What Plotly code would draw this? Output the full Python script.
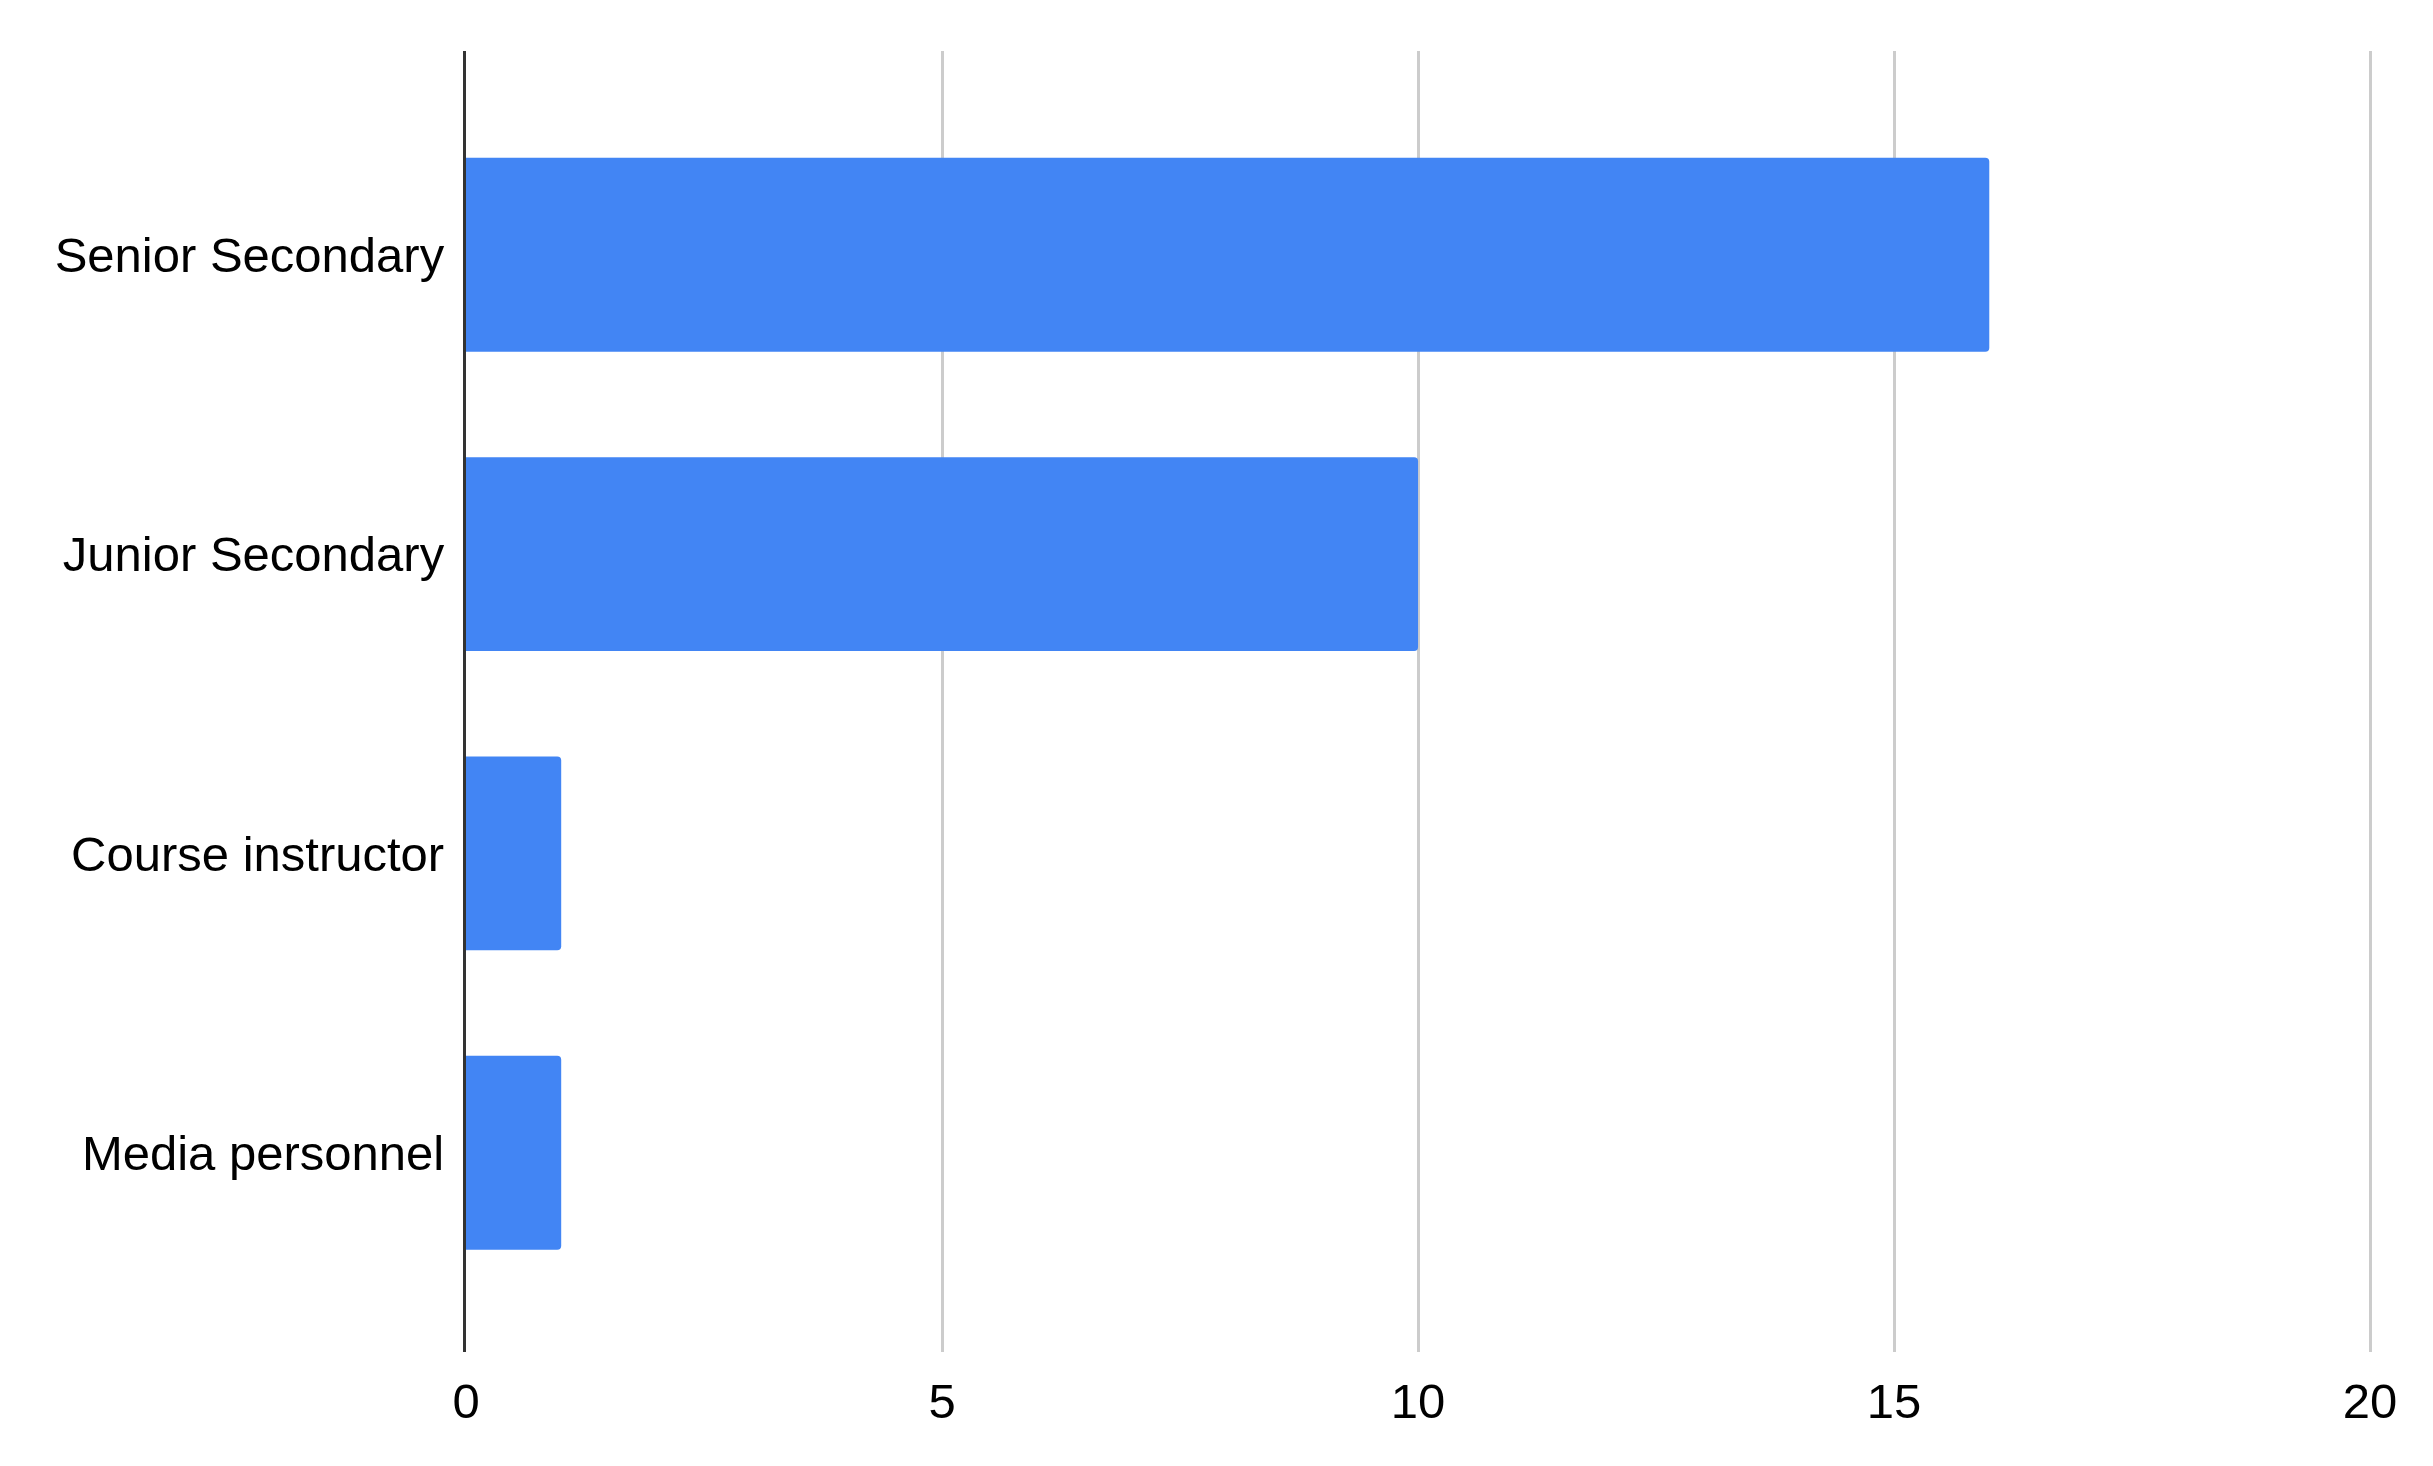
import plotly.graph_objects as go

categories = ["Senior Secondary", "Junior Secondary", "Course instructor", "Media personnel"]
values = [16, 10, 1, 1]
x_ticks = [0, 5, 10, 15, 20]

fig = go.Figure(
    go.Bar(
        y=categories,
        x=values,
        orientation="h",
        marker=dict(color="#4285F4", line=dict(width=0), cornerradius=4),
        width=0.648,
    )
)

FONT = "Liberation Sans, Arial, sans-serif"

# page body has an 8px margin, so the figure is sized to fit inside it
W, H = 2417, 1450
L, T = 458, 43
PW, PH = 1906, 1301

fig.update_layout(
    width=W,
    height=H,
    margin=dict(l=L, r=W - L - PW, t=T, b=H - T - PH, pad=0),
    paper_bgcolor="white",
    plot_bgcolor="white",
    showlegend=False,
    font=dict(family=FONT, size=49, color="#000000"),
)

fig.update_xaxes(
    range=[0, 20.02],
    tickvals=x_ticks,
    ticktext=[str(v) for v in x_ticks],
    showgrid=True,
    gridcolor="#cccccc",
    gridwidth=3,
    zeroline=False,
    showline=False,
    ticks="",
    ticklabelstandoff=16,
    tickfont=dict(family=FONT, size=49, color="#000000"),
)

fig.update_yaxes(
    type="category",
    categoryorder="array",
    categoryarray=categories,
    range=[3.666, -0.681],
    showgrid=False,
    zeroline=False,
    showline=True,
    linecolor="#333333",
    linewidth=3,
    ticks="",
    ticklabelstandoff=9,
    tickfont=dict(family=FONT, size=49, color="#000000"),
)

fig.write_html("out.html")
